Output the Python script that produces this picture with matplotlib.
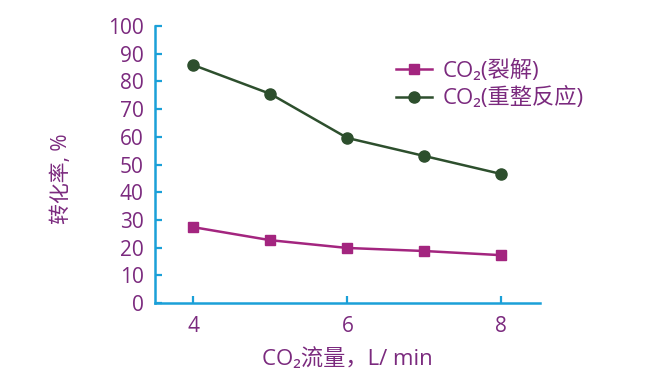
import matplotlib
matplotlib.use("Agg")
import matplotlib.pyplot as plt

# flow rate, L/min
flow = [4, 5, 6, 7, 8]
# conversion, %
crack = [27.4, 22.7, 19.9, 18.8, 17.3]
reform = [85.9, 75.5, 59.6, 53.1, 46.6]

labels = ["CO₂(裂解)", "CO₂(重整反应)"]
yticks = [0, 10, 20, 30, 40, 50, 60, 70, 80, 90, 100]
xticks = [4, 6, 8]

plt.rcParams['font.family'] = ['Open Sans', 'Noto Sans CJK SC', 'DejaVu Sans']

txt = '#7b2a7e'
axis_c = '#1ba0d8'

fig = plt.figure(figsize=(6.52, 3.77), dpi=100)
ax = fig.add_axes([0.2377, 0.196, 0.59, 0.735])

ax.plot(flow, crack, color='#a3257f', marker='s', markersize=7, lw=1.8, label=labels[0])
ax.plot(flow, reform, color='#2d4f2d', marker='o', markersize=8, lw=1.8, label=labels[1])

ax.set_xlim(3.5, 8.5)
ax.set_ylim(0, 100)
ax.set_xticks(xticks)
ax.set_yticks(yticks)

for s in ['top', 'right']:
    ax.spines[s].set_visible(False)
for s in ['left', 'bottom']:
    ax.spines[s].set_color(axis_c)
    ax.spines[s].set_linewidth(1.8)

ax.tick_params(axis='both', direction='in', color=axis_c, width=1.6, length=5,
               labelcolor=txt, labelsize=15)
ax.tick_params(axis='y', pad=8)
ax.tick_params(axis='x', pad=9)

ax.set_xlabel("CO₂流量，L/ min", color=txt, fontsize=16, labelpad=8)
ax.set_ylabel("转化率, %", color=txt, fontsize=15)
ax.yaxis.set_label_coords(-0.215, 0.45)

leg = ax.legend(loc='upper left', bbox_to_anchor=(0.575, 0.95), frameon=False,
                fontsize=16, handlelength=1.6, handletextpad=0.5, labelspacing=0.25)
for t in leg.get_texts():
    t.set_color(txt)

fig.savefig("out.png", dpi=100)
